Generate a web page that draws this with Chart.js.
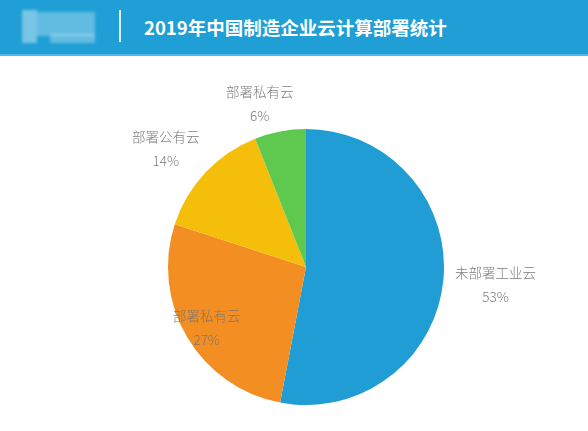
<!DOCTYPE html>
<html>
<head>
<meta charset="utf-8">
<script src="https://cdn.jsdelivr.net/npm/chart.js@4"></script>
<style>
  body { margin: 0; background: #fff; font-family: "Noto Sans CJK SC", "Noto Sans", sans-serif; }
  #header { position: absolute; left: 0; top: 0; width: 588px; height: 54px; background: #1f9fd5; border-bottom: 2px solid #52b7e3; }
  #logo { position: absolute; left: 22px; top: 10px; width: 74px; height: 34px; filter: blur(1.5px); }
  #logo div { position: absolute; background: rgba(255,255,255,0.3); }
  #sep { position: absolute; left: 119px; top: 10px; width: 2px; height: 32px; background: rgba(255,255,255,0.85); }
  #title { position: absolute; left: 144px; top: 14px; color: #fff; font-size: 18.5px; font-weight: bold; line-height: 26px; }
  #wrap { position: absolute; left: 0; top: 56px; width: 588px; height: 375px; }
</style>
</head>
<body>
<div id="header">
  <div id="logo">
    <div style="left:0;top:0;width:15px;height:33px;background:rgba(255,255,255,0.4)"></div>
    <div style="left:15px;top:2px;width:58px;height:24px"></div>
    <div style="left:28px;top:24px;width:45px;height:9px"></div>
  </div>
  <div id="sep"></div>
  <div id="title">2019年中国制造企业云计算部署统计</div>
</div>
<div id="wrap"><canvas id="pie"></canvas></div>
<script>
const categories = ['未部署工业云', '部署私有云', '部署公有云', '部署私有云'];
const shares = [53, 27, 14, 6];
const sliceColors = ['#1f9dd4', '#f38e22', '#f5be0b', '#5fc84f'];

// label placement per slice (radius factor, angle shift in degrees)
const labelRadius = [1.38, 0.845, 1.33, 1.23];
const labelShift = [0, -1, -3, -5];

const sliceLabels = {
    id: 'sliceLabels',
    afterDatasetsDraw(chart) {
        const c = chart.ctx;
        const meta = chart.getDatasetMeta(0);
        c.save();
        c.font = '300 13.5px "Noto Sans CJK SC", sans-serif';
        c.textAlign = 'center';
        c.textBaseline = 'middle';
        meta.data.forEach((arc, i) => {
            const p = arc.getProps(['x', 'y', 'startAngle', 'endAngle', 'outerRadius'], true);
            const mid = (p.startAngle + p.endAngle) / 2 + labelShift[i] * Math.PI / 180;
            const r = p.outerRadius * labelRadius[i];
            const x = p.x + Math.cos(mid) * r;
            const y = p.y + Math.sin(mid) * r;
            c.fillStyle = i === 1 ? '#8a7565' : '#7d7d7d';
            c.fillText(categories[i], x, y - 12);
            c.fillText(shares[i] + '%', x, y + 12);
        });
        c.restore();
    }
};

new Chart(document.getElementById('pie'), {
    type: 'pie',
    data: {
        labels: categories,
        datasets: [{
            data: shares,
            backgroundColor: sliceColors,
            borderWidth: 0
        }]
    },
    options: {
        responsive: true,
        maintainAspectRatio: false,
        animation: false,
        layout: { padding: { top: 73, bottom: 26, left: 24, right: 0 } },
        plugins: {
            legend: { display: false },
            tooltip: { enabled: false }
        }
    },
    plugins: [sliceLabels]
});
</script>
</body>
</html>
